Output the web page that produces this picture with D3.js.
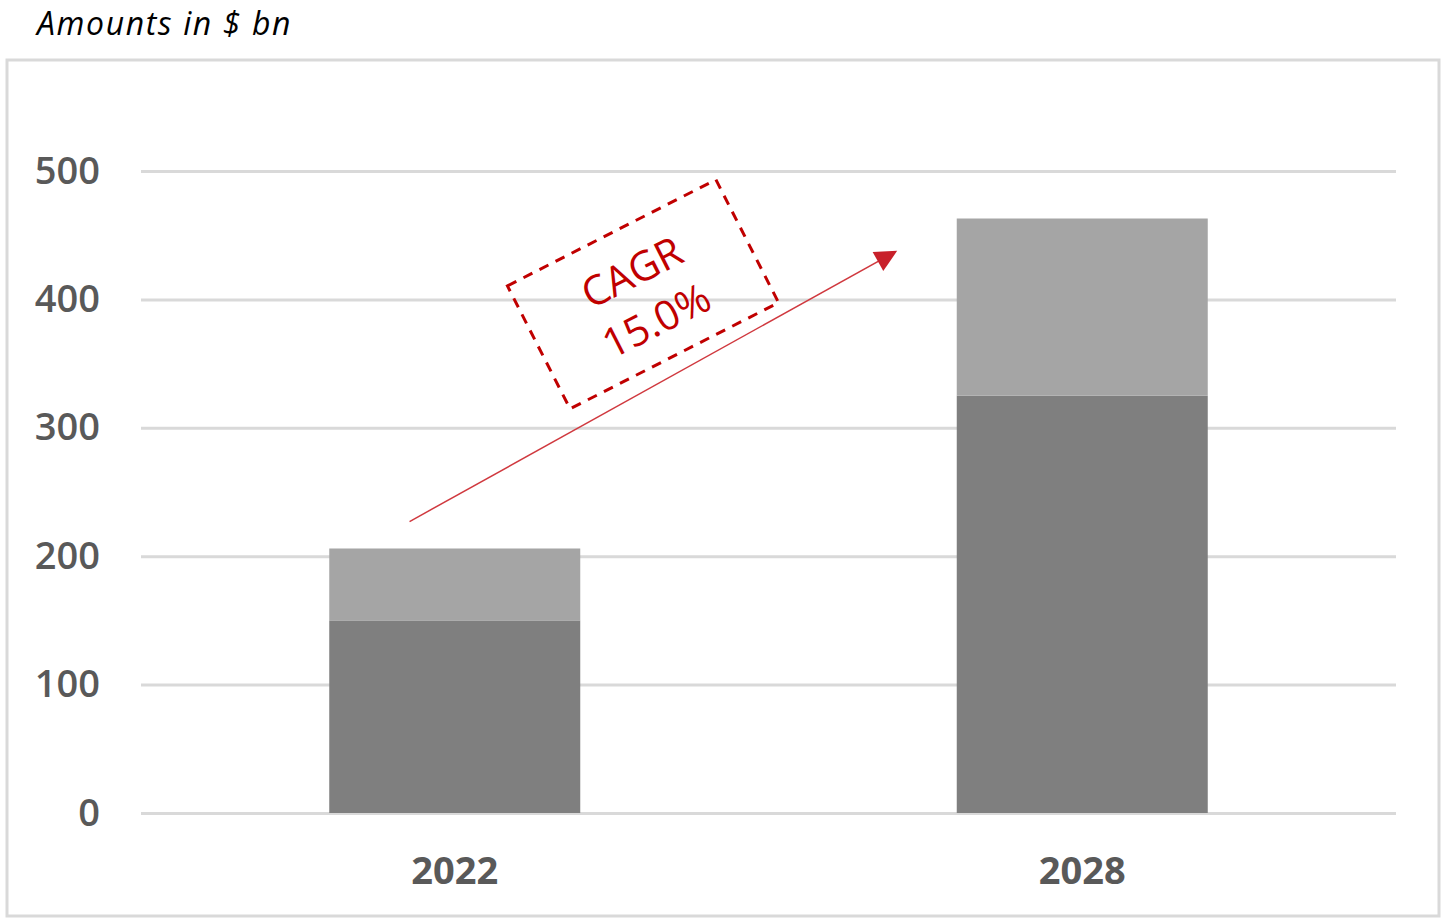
<!DOCTYPE html>
<html>
<head>
<meta charset="utf-8">
<script src="https://cdn.jsdelivr.net/npm/d3@7"></script>
<style>
  html, body { margin: 0; padding: 0; background: #fff; }
  svg { display: block; }
</style>
</head>
<body>
<div id="chart"></div>
<script>
// Data
const categories = ['2022', '2028'];
const baseValues = [150, 325];     // dark segment
const topValues  = [56, 138];      // light segment
const yTicks     = [0, 100, 200, 300, 400, 500];
const cagrLabel  = ['CAGR', '15.0%'];
// annotation anchors in data units (value on y, offset in band steps from category centre)
const arrowFrom  = { cat: '2022', step: -0.072, value: 227 };
const arrowTo    = { cat: '2028', step: -0.298, value: 437 };
const boxAt      = { cat: '2022', step: 0.30,  value: 404 };

const W = 1444, H = 919;
const DARK = '#7f7f7f', LIGHT = '#a5a5a5', GRID = '#d9d9d9', TXT = '#595959', RED = '#c00000';
const FONT = "'Open Sans', 'Noto Sans', sans-serif";

const margin = { top: 171, right: 48, bottom: 106, left: 141 };
const width  = W - margin.left - margin.right;
const height = H - margin.top - margin.bottom;

const svg = d3.select('#chart').append('svg')
  .attr('width', W).attr('height', H)
  .attr('viewBox', `0 0 ${W} ${H}`);

// title + frame
svg.append('text')
  .attr('x', 37).attr('y', 35)
  .style('font-family', FONT).style('font-style', 'italic')
  .style('font-size', '32px').style('letter-spacing', '1.6px').style('fill', '#000')
  .text('Amounts in $ bn');

svg.append('rect')
  .attr('x', 7).attr('y', 60).attr('width', 1432).attr('height', 856)
  .attr('fill', 'none').attr('stroke', GRID).attr('stroke-width', 3);

const g = svg.append('g').attr('transform', `translate(${margin.left},${margin.top})`);

const x = d3.scaleBand().domain(categories).range([0, width])
  .paddingInner(0.6).paddingOuter(0.3);
const y = d3.scaleLinear().domain([0, 500]).range([height, 0]);
const cx = (cat, s) => x(cat) + x.bandwidth() / 2 + s * x.step();

// gridlines
g.append('g')
  .call(d3.axisLeft(y).tickValues(yTicks).tickSize(-width).tickFormat(''))
  .call(gr => gr.select('.domain').remove())
  .call(gr => gr.selectAll('line').attr('stroke', GRID).attr('stroke-width', 3));

// y labels
const yAxis = g.append('g')
  .call(d3.axisLeft(y).tickValues(yTicks).tickSize(0).tickPadding(41));
yAxis.select('.domain').remove();
yAxis.selectAll('text')
  .style('font-family', FONT).style('font-size', '38px').style('font-weight', 600)
  .style('fill', TXT);

// stacked bars
const rows = categories.map((c, i) => ({ cat: c, base: baseValues[i], top: topValues[i] }));
const stack = d3.stack().keys(['base', 'top'])(rows);
const colors = { base: DARK, top: LIGHT };

stack.forEach(layer => {
  g.append('g').attr('fill', colors[layer.key])
    .selectAll('rect').data(layer).join('rect')
    .attr('x', d => x(d.data.cat))
    .attr('width', x.bandwidth())
    .attr('y', d => y(d[1]))
    .attr('height', d => y(d[0]) - y(d[1]));
});

// x labels
const xAxis = g.append('g').attr('transform', `translate(0,${height})`)
  .call(d3.axisBottom(x).tickSize(0).tickPadding(44));
xAxis.select('.domain').remove();
xAxis.selectAll('text')
  .style('font-family', FONT).style('font-size', '38px').style('font-weight', 700)
  .style('fill', TXT);

// CAGR arrow
svg.append('defs').append('marker')
  .attr('id', 'arrow').attr('viewBox', '0 0 10 10')
  .attr('refX', 9).attr('refY', 5)
  .attr('markerWidth', 24).attr('markerHeight', 22)
  .attr('markerUnits', 'userSpaceOnUse')
  .attr('orient', 'auto')
  .append('path').attr('d', 'M0,0 L10,5 L0,10 Z').attr('fill', '#c8202a');

const ax1 = cx(arrowFrom.cat, arrowFrom.step), ay1 = y(arrowFrom.value);
const ax2 = cx(arrowTo.cat, arrowTo.step),     ay2 = y(arrowTo.value);
g.append('line')
  .attr('x1', ax1).attr('y1', ay1).attr('x2', ax2).attr('y2', ay2)
  .attr('stroke', '#d0393f').attr('stroke-width', 1.5)
  .attr('marker-end', 'url(#arrow)');

// dashed label box
const bx = cx(boxAt.cat, boxAt.step), by = y(boxAt.value);
const box = g.append('g').attr('transform', `translate(${bx},${by}) rotate(-27)`);
box.append('rect')
  .attr('x', -117).attr('y', -69).attr('width', 234).attr('height', 138)
  .attr('fill', 'none').attr('stroke', RED).attr('stroke-width', 3)
  .attr('stroke-dasharray', '10,8');
box.selectAll('text').data(cagrLabel).join('text')
  .attr('x', 0)
  .attr('y', (d, i) => (i - 0.5) * 54 + 1)
  .attr('text-anchor', 'middle').attr('dominant-baseline', 'central')
  .style('font-family', FONT).style('font-size', '41px')
  .style('fill', RED)
  .text(d => d);
</script>
</body>
</html>
